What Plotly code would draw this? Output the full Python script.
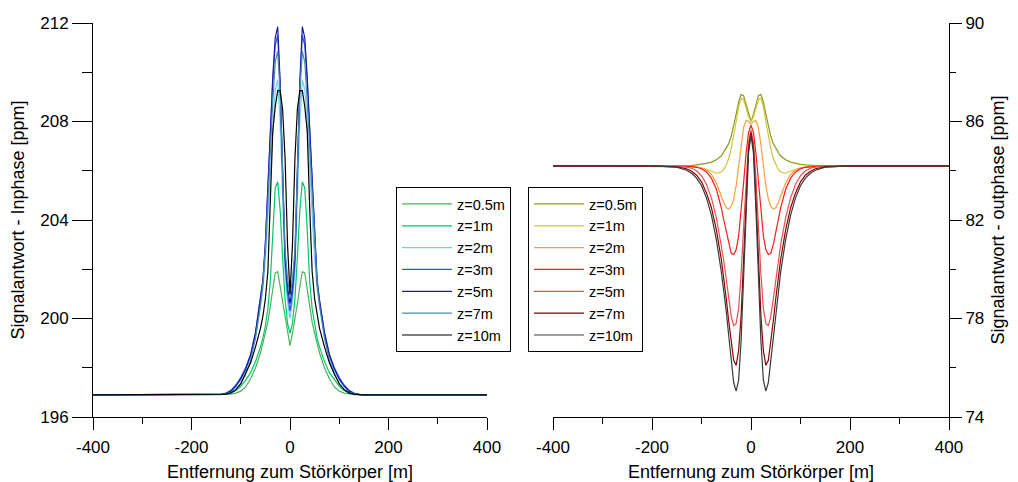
import plotly.graph_objects as go

# Distance from the buried object (m), half profile; profiles are symmetric about 0
distance_half = [0, 5, 10, 15, 20, 25, 30, 35, 40, 45, 50, 55, 60, 70, 80, 90, 100,
                 110, 120, 130, 140, 150, 200, 300, 400]

depth_labels = ["z=0.5m", "z=1m", "z=2m", "z=3m", "z=5m", "z=7m", "z=10m"]

# In-phase response (ppm) for each depth, x >= 0
inphase_z05 = [198.9, 199.4, 199.95, 200.6, 201.3, 201.9, 201.85, 201.2, 200.5, 199.85, 199.4, 199.0, 198.6,
               198.0, 197.55, 197.22, 197.05, 196.97, 196.93, 196.91, 196.9, 196.9, 196.9, 196.9, 196.9]
inphase_z1 = [199.4, 199.8, 200.8, 202.5, 204.4, 205.55, 205.3, 203.6, 201.5, 200.4, 199.7, 199.2, 198.85,
              198.25, 197.8, 197.5, 197.25, 197.08, 196.98, 196.93, 196.91, 196.9, 196.9, 196.9, 196.9]
inphase_z2 = [200.0, 200.7, 201.9, 205.0, 208.0, 209.7, 209.3, 207.9, 206.1, 204.1, 202.4, 201.2, 200.5,
              199.3, 198.45, 197.9, 197.5, 197.22, 197.03, 196.95, 196.92, 196.9, 196.9, 196.9, 196.9]
inphase_z3 = [200.3, 201.0, 202.3, 205.8, 209.4, 211.5, 211.1, 209.6, 207.6, 205.2, 203.1, 201.6, 200.75,
              199.45, 198.55, 198.0, 197.6, 197.3, 197.08, 196.97, 196.92, 196.9, 196.9, 196.9, 196.9]
inphase_z5 = [200.6, 201.3, 202.5, 206.0, 209.6, 211.85, 211.4, 209.8, 207.7, 205.2, 203.0, 201.5, 200.7,
              199.4, 198.5, 197.95, 197.55, 197.25, 197.05, 196.95, 196.92, 196.9, 196.9, 196.9, 196.9]
inphase_z7 = [200.9, 201.6, 202.8, 206.0, 209.2, 210.85, 210.4, 208.8, 206.9, 204.7, 202.8, 201.4, 200.5,
              199.2, 198.3, 197.75, 197.35, 197.12, 197.0, 196.94, 196.91, 196.9, 196.9, 196.9, 196.9]
inphase_z10 = [201.0, 203.0, 206.5, 208.5, 209.25, 209.25, 208.6, 207.6, 204.5, 201.9, 200.8, 200.1, 199.6,
               198.85, 198.2, 197.75, 197.35, 197.1, 196.98, 196.93, 196.91, 196.9, 196.9, 196.9, 196.9]

# Out-of-phase response (ppm) for each depth, x >= 0
outphase_z05 = [86.0, 86.3, 86.7, 87.05, 87.1, 86.8, 86.3, 85.8, 85.4, 85.1, 84.9, 84.75, 84.6,
                84.45, 84.35, 84.3, 84.26, 84.24, 84.22, 84.21, 84.2, 84.2, 84.2, 84.2, 84.2]
outphase_z1 = [86.0, 86.2, 86.55, 86.9, 86.95, 86.6, 86.0, 85.4, 84.9, 84.5, 84.25, 84.05, 83.95,
               83.9, 83.98, 84.06, 84.12, 84.15, 84.17, 84.18, 84.19, 84.2, 84.2, 84.2, 84.2]
outphase_z2 = [85.9, 86.0, 86.05, 85.75, 85.05, 84.2, 83.4, 82.85, 82.55, 82.45, 82.5, 82.7, 82.95,
               83.5, 83.85, 84.03, 84.12, 84.16, 84.18, 84.19, 84.2, 84.2, 84.2, 84.2, 84.2]
outphase_z3 = [85.85, 85.55, 84.7, 83.5, 82.3, 81.35, 80.8, 80.6, 80.65, 81.0, 81.5, 82.0, 82.5,
               83.25, 83.7, 83.95, 84.08, 84.14, 84.17, 84.19, 84.2, 84.2, 84.2, 84.2, 84.2]
outphase_z5 = [85.65, 85.15, 83.7, 81.7, 79.8, 78.4, 77.8, 77.7, 78.1, 78.8, 79.6, 80.35, 81.0,
               82.1, 82.9, 83.45, 83.8, 84.0, 84.1, 84.15, 84.18, 84.2, 84.2, 84.2, 84.2]
outphase_z7 = [85.55, 84.9, 82.9, 80.3, 78.1, 76.7, 76.1, 76.3, 77.0, 77.9, 78.8, 79.65, 80.4,
               81.6, 82.5, 83.1, 83.55, 83.82, 83.98, 84.08, 84.13, 84.16, 84.2, 84.2, 84.2]
outphase_z10 = [85.45, 84.7, 82.4, 79.5, 77.1, 75.5, 75.05, 75.4, 76.3, 77.3, 78.3, 79.15, 79.9,
                81.2, 82.2, 82.9, 83.4, 83.7, 83.9, 84.02, 84.1, 84.15, 84.2, 84.2, 84.2]

inphase_series = [inphase_z05, inphase_z1, inphase_z2, inphase_z3, inphase_z5, inphase_z7, inphase_z10]
outphase_series = [outphase_z05, outphase_z1, outphase_z2, outphase_z3, outphase_z5, outphase_z7, outphase_z10]

inphase_colors = ["#4cb35a", "#00c86a", "#6fcff2", "#2a55e6", "#1a1aa8", "#4a8ca8", "#000000"]
outphase_colors = ["#8c9a1e", "#cfc43a", "#ff9f3a", "#ff1a1a", "#e85050", "#8a0000", "#3a3a3a"]

x_tick_vals = [-400, -200, 0, 200, 400]
x_tick_labels = ["-400", "-200", "0", "200", "400"]


def full_profile(half_x, half_y):
    """Mirror a half profile (x >= 0) to cover the whole line."""
    xs = [-v for v in reversed(half_x[1:])] + list(half_x)
    ys = list(reversed(half_y[1:])) + list(half_y)
    return xs, ys


fig = go.Figure()

for label, ys, color in zip(depth_labels, inphase_series, inphase_colors):
    xs, yy = full_profile(distance_half, ys)
    fig.add_trace(go.Scatter(x=xs, y=yy, mode="lines", name=label,
                             line=dict(color=color, width=1.2),
                             xaxis="x", yaxis="y", legend="legend"))

for label, ys, color in zip(depth_labels, outphase_series, outphase_colors):
    xs, yy = full_profile(distance_half, ys)
    fig.add_trace(go.Scatter(x=xs, y=yy, mode="lines", name=label,
                             line=dict(color=color, width=1.2),
                             xaxis="x2", yaxis="y2", legend="legend2"))

W, H = 1018, 482
font_family = "Liberation Sans, Arial, sans-serif"
tick_font = dict(family=font_family, size=17, color="black")
title_font = dict(family=font_family, size=18, color="black")

x_common = dict(range=[-400, 400], showline=True, linecolor="black", linewidth=1,
                ticks="outside", ticklen=12, tickcolor="black", tickwidth=1,
                tickmode="array", tickvals=x_tick_vals, ticktext=x_tick_labels,
                minor=dict(dtick=100, tick0=0, ticks="outside", ticklen=6, tickcolor="black"),
                showgrid=False, zeroline=False, tickfont=tick_font,
                ticklabelstandoff=3,
                title=dict(text="Entfernung zum Störkörper [m]", font=title_font, standoff=8),
                automargin=False)

y_domain = [(H - 417) / H, (H - 23) / H]

legend_style = dict(yanchor="top", xanchor="left", y=1 - 187 / H,
                    bgcolor="white", bordercolor="black", borderwidth=1,
                    itemwidth=50,
                    font=dict(family=font_family, size=14.5, color="black"))

fig.update_layout(
    width=W, height=H,
    margin=dict(l=0, r=0, t=0, b=0, autoexpand=False),
    paper_bgcolor="white", plot_bgcolor="white",
    font=dict(family=font_family, color="black"),
    xaxis=dict(domain=[93 / W, 487 / W], anchor="y", **x_common),
    xaxis2=dict(domain=[553 / W, 949 / W], anchor="y2", **x_common),
    yaxis=dict(domain=y_domain, anchor="x", range=[196, 212], dtick=4, tick0=196,
               showline=True, linecolor="black", linewidth=1,
               ticks="outside", ticklen=20, tickcolor="black",
               minor=dict(dtick=2, tick0=196, ticks="outside", ticklen=10, tickcolor="black"),
               showgrid=False, zeroline=False, tickfont=tick_font,
               title=dict(text="Signalantwort - Inphase [ppm]", font=title_font, standoff=10),
               automargin=False),
    yaxis2=dict(domain=y_domain, anchor="x2", side="right", range=[74, 90], dtick=4, tick0=74,
                showline=True, linecolor="black", linewidth=1,
                ticks="outside", ticklen=12, tickcolor="black",
                minor=dict(dtick=2, tick0=74, ticks="outside", ticklen=6, tickcolor="black"),
                showgrid=False, zeroline=False, tickfont=tick_font,
                title=dict(text="Signalantwort - outphase [ppm]", font=title_font, standoff=8),
                automargin=False),
    legend=dict(x=396 / W, **legend_style),
    legend2=dict(x=528 / W, **legend_style),
    showlegend=True,
)

fig.write_html("out.html")
